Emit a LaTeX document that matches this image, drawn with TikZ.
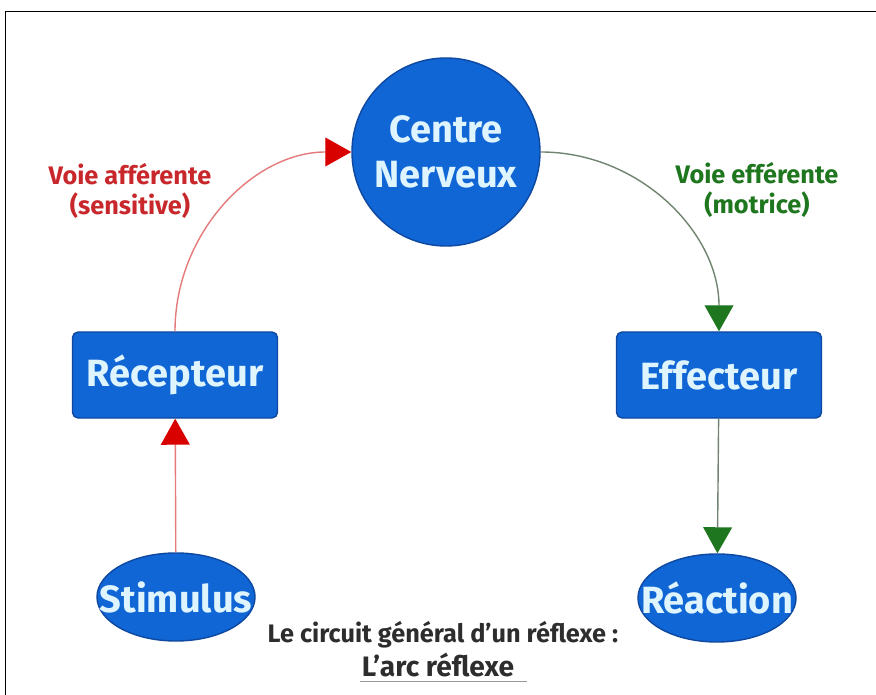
\documentclass[tikz,border=0pt]{standalone}
\usepackage{fontspec}
\setmainfont{Fira Sans}
\usetikzlibrary{arrows.meta, shapes.geometric}
\definecolor{nodeblue}{RGB}{16,102,212}
\definecolor{nodeedge}{RGB}{14,72,160}
\definecolor{nodetext}{RGB}{222,244,255}
\definecolor{affred}{RGB}{200,40,44}
\definecolor{affline}{RGB}{228,122,122}
\definecolor{effgreen}{RGB}{30,118,30}
\definecolor{effline}{RGB}{112,132,112}
\definecolor{titlegray}{RGB}{45,45,45}

\begin{document}
\begin{tikzpicture}
            [x=0.025cm, y=0.025cm, semithick,
             nodefont/.style={font=\fontsize{27}{32}\selectfont\bfseries, text=nodetext},
             bluebox/.style={shape=rectangle, rounded corners=4pt, fill=nodeblue, draw=nodeedge,
                             line width=1pt, minimum width=5.125cm, minimum height=2.15cm, nodefont},
             bluecircle/.style={shape=circle, fill=nodeblue, draw=nodeedge, line width=1pt,
                                minimum size=4.7cm, inner sep=0pt, align=center, nodefont},
             blueellipse/.style={shape=ellipse, fill=nodeblue, draw=nodeedge, line width=1pt,
                                 inner sep=0pt, minimum width=3.95cm, minimum height=2.2cm},
             pathlabel/.style={font=\fontsize{18}{21}\selectfont\bfseries, align=center},
             afferent/.style={draw=affline, line width=1pt,
                              -{Triangle[width=0.72cm, length=0.65cm, color=red!85!black]}},
             efferent/.style={draw=effline, line width=1pt,
                              -{Triangle[width=0.72cm, length=0.65cm, color=effgreen]}}]
            \useasboundingbox (0, 0) rectangle (876, 695);

            % frame
            \coordinate (framebl) at (5.5, 0);
            \coordinate (frametl) at (5.5, 683.5);
            \coordinate (frametr) at (876, 683.5);
            \draw[line width=1.4pt, black] (framebl) -- (frametl) -- (frametr);

            \node[bluecircle] (centre) at (446, 543) {Centre\\Nerveux};
            \node[bluebox] (recepteur) at (175, 320) {Récepteur};
            \node[bluebox] (effecteur) at (719, 320) {Effecteur};
            \node[blueellipse, label={[nodefont]center:Stimulus}] (stimulus) at (176, 98) {};
            \node[blueellipse, label={[nodefont]center:Réaction}] (reaction) at (717, 97) {};

            \node[pathlabel, text=affred] (afflabel) at (130, 504) {Voie afférente\\(sensitive)};
            \node[pathlabel, text=effgreen] (efflabel) at (757, 505) {Voie efférente\\(motrice)};

            \node[font=\fontsize{18}{21}\selectfont\bfseries, text=titlegray] (title) at (443, 60)
                {Le circuit général d'un réflexe :};
            \node[font=\fontsize{20}{21}\selectfont\bfseries, text=titlegray, inner sep=1pt] (subtitle) at (438, 30)
                {L'arc réflexe};
            \draw[gray!80, line width=1.2pt] ([yshift=-2pt]subtitle.south west) -- ([yshift=-2pt, xshift=8pt]subtitle.south east);

            \path (stimulus) edge [afferent] (recepteur);
            \path (recepteur.north) edge [afferent, out=90, in=180] (centre.west);
            \path (centre.east) edge [efferent, out=0, in=90] (effecteur.north);
            \path (effecteur) edge [efferent] (reaction);
        \end{tikzpicture}
\end{document}
